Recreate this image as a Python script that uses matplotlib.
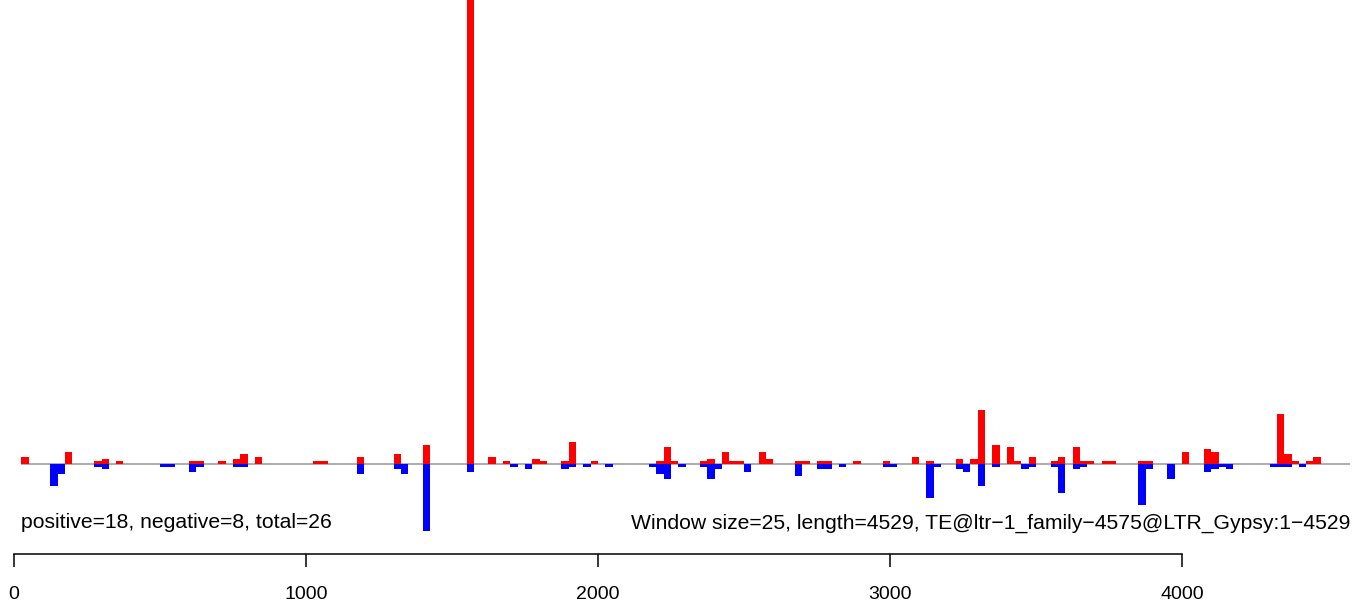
import matplotlib
matplotlib.use("Agg")
import matplotlib.pyplot as plt

plt.rcParams['font.family'] = ['Liberation Sans', 'DejaVu Sans']

# window size and sequence info
window = 25
line_start = 25
line_end = 4575

# positive (red) windows: start position and signal
pos_starts = [25, 175, 275, 300, 350, 600, 625, 700, 750, 775, 825, 1025, 1050,
              1175, 1300, 1400, 1550, 1625, 1675, 1775, 1800, 1875, 1900, 1975,
              2200, 2225, 2250, 2350, 2375, 2425, 2450, 2475, 2550, 2575, 2675,
              2700, 2750, 2775, 2875, 2975, 3075, 3125, 3225, 3275, 3300, 3350,
              3400, 3425, 3475, 3550, 3575, 3625, 3650, 3675, 3725, 3750, 3850,
              3875, 4000, 4075, 4100, 4325, 4350, 4375, 4425, 4450]
pos_values = [6.7, 11.7, 2.5, 4.3, 2.5, 2.5, 2.5, 2.5, 4.3, 9.7, 6.7, 2.5, 2.5,
              6.7, 9.7, 18.7, 600, 6.7, 2.5, 4.3, 2.5, 2.5, 21.7, 2.5,
              2.5, 16.7, 2.5, 2.5, 4.3, 11.7, 2.5, 2.5, 11.7, 4.3, 2.5,
              2.5, 2.5, 2.5, 2.5, 2.5, 6.5, 2.5, 4.3, 4.3, 54, 18.7,
              16.3, 2.5, 6.5, 2.5, 6.5, 16.3, 2.5, 2.5, 2.5, 2.5, 2.5,
              2.5, 11.3, 14.3, 11.3, 49.3, 9.3, 2.5, 2.5, 6.5]

# negative (blue) windows: start position and signal
neg_starts = [125, 150, 275, 300, 500, 525, 600, 625, 750, 775, 1175, 1300, 1325,
              1400, 1550, 1700, 1750, 1875, 1900, 1950, 2025, 2175, 2200, 2225,
              2275, 2350, 2375, 2400, 2500, 2675, 2750, 2775, 2825, 2975, 3000,
              3125, 3150, 3225, 3250, 3300, 3350, 3450, 3475, 3550, 3575, 3625,
              3650, 3850, 3875, 3950, 4075, 4100, 4125, 4150, 4300, 4325, 4350,
              4400]
neg_values = [22, 10, 3, 5, 3, 3, 8, 3, 3, 3, 10, 5, 10,
              67, 8, 3, 5, 5, 3, 3, 3, 3, 10, 15,
              3, 3, 15, 5, 8, 12, 5, 5, 3, 3, 3,
              34, 3, 5, 8, 22, 3, 5, 3, 3, 29, 5,
              3, 41, 5, 15, 8, 5, 3, 5, 3, 3, 3,
              3]

x_ticks = [0, 1000, 2000, 3000, 4000]
left_label = "positive=18, negative=8, total=26"
right_label = "Window size=25, length=4529, TE@ltr\u22121_family\u22124575@LTR_Gypsy:1\u22124529"

fig = plt.figure(figsize=(13.53, 6.05), dpi=100)
ax = fig.add_axes([0, 0, 1, 1])

ax.hlines(0, line_start, line_end, color='#a0a0a0', linewidth=1.2, zorder=1)
ax.bar(pos_starts, pos_values, width=window, align='edge', color='#ff0000',
       linewidth=0, zorder=2)
ax.bar(neg_starts, [-v for v in neg_values], width=window, align='edge',
       color='#0000ff', linewidth=0, zorder=2)

ax.text(line_start, -59.5, left_label, ha='left', va='center', fontsize=15.2)
ax.text(line_end, -59.5, right_label, ha='right', va='center', fontsize=15.2)

ax.set_xlim(-47.9, 4585.6)
ax.set_ylim(-141.5, 463.5)

for s in ['top', 'right', 'left']:
    ax.spines[s].set_visible(False)
ax.spines['bottom'].set_position(('data', -90.2))
ax.spines['bottom'].set_bounds(0, 4000)
ax.spines['bottom'].set_linewidth(1.1)
ax.set_xticks(x_ticks)
ax.set_xticklabels([str(t) for t in x_ticks])
ax.tick_params(axis='x', direction='out', length=9.5, width=1.1, pad=13.5, labelsize=14)
ax.set_yticks([])
ax.patch.set_visible(False)

plt.savefig("out.png", dpi=100)
